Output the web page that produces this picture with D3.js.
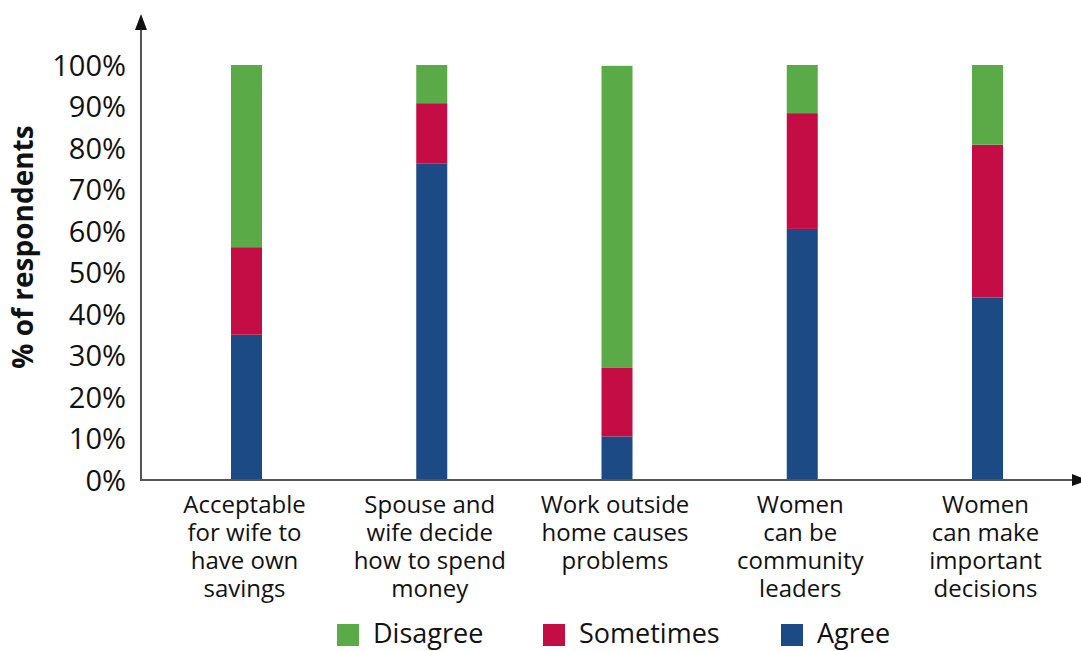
<!DOCTYPE html>
<html>
<head>
<meta charset="utf-8">
<script src="https://cdn.jsdelivr.net/npm/d3@7"></script>
<style>
  html, body { margin: 0; padding: 0; background: #fff; }
  svg { display: block; }
  text { font-family: "Open Sans", "Noto Sans", sans-serif; fill: #111; }
</style>
</head>
<body>
<svg id="chart" width="1081" height="651"></svg>
<script>
const categories = [
  ["Acceptable", "for wife to", "have own", "savings"],
  ["Spouse and", "wife decide", "how to spend", "money"],
  ["Work outside", "home causes", "problems"],
  ["Women", "can be", "community", "leaders"],
  ["Women", "can make", "important", "decisions"]
];
const seriesNames = ["Agree", "Sometimes", "Disagree"];
const agree     = [35.0, 76.2, 10.5, 60.5, 44.0];
const sometimes = [21.1, 14.6, 16.5, 27.9, 36.8];
const disagree  = [43.9,  9.2, 72.8, 11.6, 19.2];
const yTicks = [0, 10, 20, 30, 40, 50, 60, 70, 80, 90, 100];
const legendOrder = ["Disagree", "Sometimes", "Agree"];
const colors = { Agree: "#1b4a84", Sometimes: "#c50d45", Disagree: "#5aab47" };

const svg = d3.select("#chart");
const keys = categories.map((c, i) => "c" + i);
const rows = keys.map((k, i) => ({ key: k, Agree: agree[i], Sometimes: sometimes[i], Disagree: disagree[i] }));

const x = d3.scalePoint().domain(keys).range([246.5, 987.5]);
const y = d3.scaleLinear().domain([0, 100]).range([480, 65]);
const barW = 31;

const stack = d3.stack().keys(seriesNames)(rows);

svg.append("g").selectAll("g").data(stack).join("g")
  .attr("fill", d => colors[d.key])
  .selectAll("rect").data(d => d).join("rect")
  .attr("x", d => x(d.data.key) - barW / 2)
  .attr("width", barW)
  .attr("y", d => y(d[1]))
  .attr("height", d => y(d[0]) - y(d[1]));

// Y axis ticks
const yAxis = d3.axisLeft(y).tickValues(yTicks).tickFormat(d => d + "%").tickSize(0).tickPadding(15);
const gy = svg.append("g").attr("transform", "translate(141,0)").call(yAxis);
gy.select(".domain").remove();
gy.selectAll("text").style("font-family", '"Open Sans", sans-serif').style("font-size", "29px").attr("fill", "#111").attr("dy", "0.35em");

// axis lines with arrows
const axisColor = "#555";
svg.append("line").attr("x1", 141).attr("x2", 141).attr("y1", 481).attr("y2", 28)
  .attr("stroke", axisColor).attr("stroke-width", 2);
svg.append("path").attr("d", "M135,30 L147,30 L141,14 Z").attr("fill", "#111");
svg.append("line").attr("x1", 140).attr("x2", 1072).attr("y1", 480).attr("y2", 480)
  .attr("stroke", axisColor).attr("stroke-width", 2);
svg.append("path").attr("d", "M1072,474 L1072,486 L1088,480 Z").attr("fill", "#111");

// X category labels (one text per line)
const gx = svg.append("g");
categories.forEach((lines, i) => {
  lines.forEach((ln, j) => {
    gx.append("text").attr("text-anchor", "middle")
      .attr("x", x(keys[i]) - 2).attr("y", 513 + j * 28)
      .style("font-size", "24px").text(ln);
  });
});

// Y label
svg.append("text")
  .attr("transform", "translate(33,247) rotate(-90)")
  .attr("text-anchor", "middle")
  .style("font-size", "28px").style("font-weight", "bold")
  .text("% of respondents");

// Legend
const legendX = { Disagree: 337, Sometimes: 543, Agree: 781 };
const lg = svg.append("g");
legendOrder.forEach(name => {
  lg.append("rect").attr("x", legendX[name]).attr("y", 624).attr("width", 22).attr("height", 22)
    .attr("fill", colors[name]);
  lg.append("text").attr("x", legendX[name] + 36).attr("y", 643)
    .style("font-size", "27px").text(name);
});
</script>
</body>
</html>
